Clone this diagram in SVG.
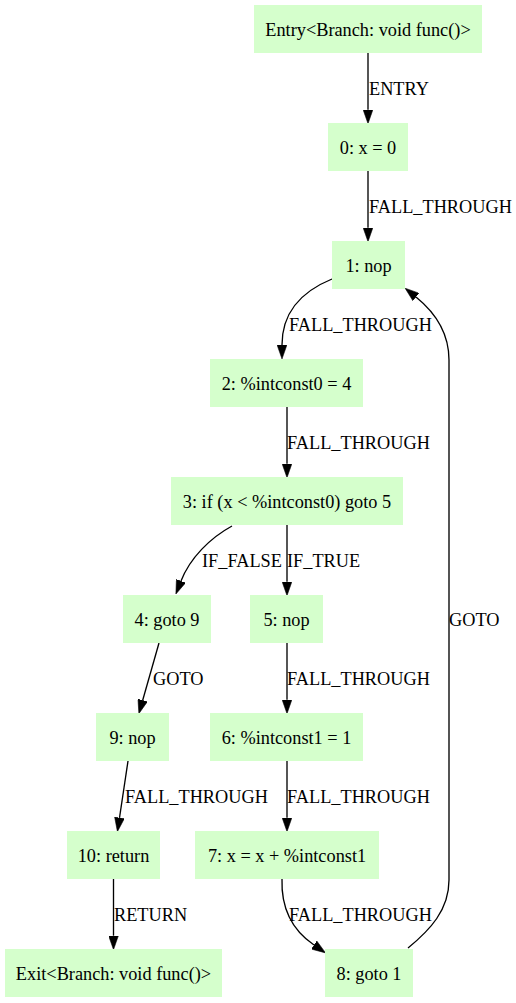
<svg xmlns="http://www.w3.org/2000/svg" width="516" height="1003" viewBox="0 0 516 1003">
<defs>
<style>
.node rect { fill: #d5ffcc; stroke: none; }
.node text { font-family: "Liberation Serif", "Times New Roman", serif; font-size: 18.3px; fill: #000; text-anchor: middle; }
.edges path { fill: none; stroke: #000; stroke-width: 1.33; marker-end: url(#arrow); }
.edges text { font-family: "Liberation Serif", "Times New Roman", serif; font-size: 18.3px; fill: #000; text-anchor: start; }
</style>
<marker id="arrow" markerUnits="userSpaceOnUse" markerWidth="14" markerHeight="10" viewBox="0 0 13.3 9.34" refX="0" refY="4.67" orient="auto">
<path d="M0,0 L13.3,4.67 L0,9.34 Z" fill="#000" stroke="#000" stroke-width="0.5"/>
</marker>
</defs>
<rect width="516" height="1003" fill="#fff"/>
<g id="edges" class="edges">
<path d="M368,53 L368,109.7"/>
<text x="369" y="94.5">ENTRY</text>
<path d="M368,171 L368,227.7"/>
<text x="369" y="212.5">FALL_THROUGH</text>
<path d="M332,279 C305,290 282,310 282,345"/>
<text x="289" y="330.5">FALL_THROUGH</text>
<path d="M287,407 L287,463.7"/>
<text x="287" y="448.5">FALL_THROUGH</text>
<path d="M232,526 C210,538 190,558 181,581"/>
<text x="202" y="566.5">IF_FALSE</text>
<path d="M287,525 L287,581.7"/>
<text x="287" y="566.5">IF_TRUE</text>
<path d="M159,643 L142.7,700.2"/>
<text x="153" y="684.5">GOTO</text>
<path d="M287,643 L287,699.7"/>
<text x="287" y="684.5">FALL_THROUGH</text>
<path d="M128,761 L119.5,817.8"/>
<text x="125" y="802.5">FALL_THROUGH</text>
<path d="M287,761 L287,817.7"/>
<text x="287" y="802.5">FALL_THROUGH</text>
<path d="M113.5,879 L113.5,935.7"/>
<text x="114" y="920.5">RETURN</text>
<path d="M282,879 C281,908 292,930 314,945"/>
<text x="289" y="920.5">FALL_THROUGH</text>
<path d="M408,948 C430,930 449,910 449,880 L449,360 C449,335 437,314 416,297"/>
<text x="449" y="625.5">GOTO</text>
</g>
<g id="entry" class="node"><rect x="254" y="5" width="228" height="48"/><text x="368" y="35.5">Entry&lt;Branch: void func()&gt;</text></g>
<g id="n0" class="node"><rect x="328" y="123" width="80" height="48"/><text x="368" y="153.5">0: x = 0</text></g>
<g id="n1" class="node"><rect x="332" y="241" width="73" height="48"/><text x="368.5" y="271.5">1: nop</text></g>
<g id="n2" class="node"><rect x="210" y="359" width="153" height="48"/><text x="286.5" y="389.5">2: %intconst0 = 4</text></g>
<g id="n3" class="node"><rect x="171" y="477" width="232" height="48"/><text x="287" y="507.5">3: if (x &lt; %intconst0) goto 5</text></g>
<g id="n4" class="node"><rect x="123" y="595" width="88" height="48"/><text x="167" y="625.5">4: goto 9</text></g>
<g id="n5" class="node"><rect x="250" y="595" width="73" height="48"/><text x="286.5" y="625.5">5: nop</text></g>
<g id="n9" class="node"><rect x="96" y="713" width="73" height="48"/><text x="132.5" y="743.5">9: nop</text></g>
<g id="n6" class="node"><rect x="210" y="713" width="153" height="48"/><text x="286.5" y="743.5">6: %intconst1 = 1</text></g>
<g id="n10" class="node"><rect x="67" y="831" width="93" height="48"/><text x="113.5" y="861.5">10: return</text></g>
<g id="n7" class="node"><rect x="195" y="831" width="184" height="48"/><text x="287" y="861.5">7: x = x + %intconst1</text></g>
<g id="exit" class="node"><rect x="5" y="949" width="217" height="48"/><text x="113.5" y="979.5">Exit&lt;Branch: void func()&gt;</text></g>
<g id="n8" class="node"><rect x="325" y="949" width="88" height="48"/><text x="369" y="979.5">8: goto 1</text></g>
</svg>
